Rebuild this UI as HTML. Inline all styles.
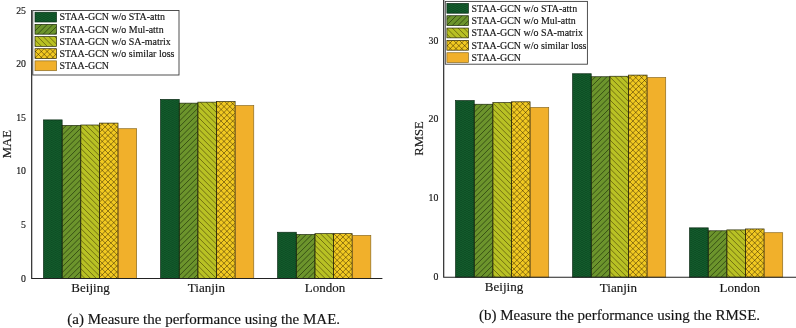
<!DOCTYPE html>
<html><head><meta charset="utf-8"><title>STAA-GCN ablation</title>
<style>html,body{margin:0;padding:0;background:#fff}svg{display:block}</style>
</head><body>
<svg width="796" height="328" viewBox="0 0 796 328" font-family='"Liberation Serif", serif' fill="#141414" stroke="#141414" stroke-width="0.15">
<defs>
<pattern id="p1" width="3.9" height="2" patternUnits="userSpaceOnUse" stroke="none">
<rect width="3.9" height="2" fill="#135c2c"/>
<circle cx="0.975" cy="0.5" r="0.55" fill="#083c1b"/>
<circle cx="2.925" cy="1.5" r="0.55" fill="#083c1b"/>
</pattern>
<clipPath id="c1"><rect x="62.13" y="125.50" width="18.63" height="153.00"/><rect x="179.23" y="103.15" width="18.63" height="175.35"/><rect x="296.28" y="234.55" width="18.63" height="43.95"/><rect x="35.00" y="24.37" width="21.50" height="9.80"/><rect x="474.22" y="104.25" width="18.62" height="172.95"/><rect x="591.22" y="76.75" width="18.62" height="200.45"/><rect x="708.22" y="230.80" width="18.62" height="46.40"/><rect x="446.90" y="15.73" width="21.50" height="9.80"/></clipPath>
<clipPath id="c2"><rect x="80.76" y="125.00" width="18.63" height="153.50"/><rect x="197.86" y="102.15" width="18.63" height="176.35"/><rect x="314.91" y="233.65" width="18.63" height="44.85"/><rect x="35.00" y="36.54" width="21.50" height="9.80"/><rect x="492.84" y="102.60" width="18.62" height="174.60"/><rect x="609.84" y="76.25" width="18.62" height="200.95"/><rect x="726.84" y="229.90" width="18.62" height="47.30"/><rect x="446.90" y="28.06" width="21.50" height="9.80"/></clipPath>
<clipPath id="c3"><rect x="99.39" y="123.10" width="18.63" height="155.40"/><rect x="216.49" y="101.60" width="18.63" height="176.90"/><rect x="333.54" y="233.65" width="18.63" height="44.85"/><rect x="35.00" y="48.71" width="21.50" height="9.80"/><rect x="511.46" y="101.80" width="18.62" height="175.40"/><rect x="628.46" y="75.10" width="18.62" height="202.10"/><rect x="745.46" y="228.95" width="18.62" height="48.25"/><rect x="446.90" y="40.39" width="21.50" height="9.80"/></clipPath>
</defs>
<rect width="796" height="328" fill="#fff" stroke="none"/>
<rect x="32.8" y="10.5" width="146.20" height="64.50" fill="#fff" stroke="#3c3c3c" stroke-width="0.9"/>
<rect x="445.3" y="1.4" width="142.10" height="62.80" fill="#fff" stroke="#3c3c3c" stroke-width="0.9"/>
<rect x="43.50" y="119.90" width="18.63" height="158.60" fill="url(#p1)" stroke="none"/>
<rect x="160.60" y="99.40" width="18.63" height="179.10" fill="url(#p1)" stroke="none"/>
<rect x="277.65" y="232.25" width="18.63" height="46.25" fill="url(#p1)" stroke="none"/>
<rect x="35.00" y="12.20" width="21.50" height="9.80" fill="url(#p1)" stroke="none"/>
<rect x="455.60" y="100.60" width="18.62" height="176.60" fill="url(#p1)" stroke="none"/>
<rect x="572.60" y="73.75" width="18.62" height="203.45" fill="url(#p1)" stroke="none"/>
<rect x="689.60" y="227.85" width="18.62" height="49.35" fill="url(#p1)" stroke="none"/>
<rect x="446.90" y="3.40" width="21.50" height="9.80" fill="url(#p1)" stroke="none"/>
<rect x="62.13" y="125.50" width="18.63" height="153.00" fill="#6c942c" stroke="none"/>
<rect x="179.23" y="103.15" width="18.63" height="175.35" fill="#6c942c" stroke="none"/>
<rect x="296.28" y="234.55" width="18.63" height="43.95" fill="#6c942c" stroke="none"/>
<rect x="35.00" y="24.37" width="21.50" height="9.80" fill="#6c942c" stroke="none"/>
<rect x="474.22" y="104.25" width="18.62" height="172.95" fill="#6c942c" stroke="none"/>
<rect x="591.22" y="76.75" width="18.62" height="200.45" fill="#6c942c" stroke="none"/>
<rect x="708.22" y="230.80" width="18.62" height="46.40" fill="#6c942c" stroke="none"/>
<rect x="446.90" y="15.73" width="21.50" height="9.80" fill="#6c942c" stroke="none"/>
<rect x="80.76" y="125.00" width="18.63" height="153.50" fill="#b8c124" stroke="none"/>
<rect x="197.86" y="102.15" width="18.63" height="176.35" fill="#b8c124" stroke="none"/>
<rect x="314.91" y="233.65" width="18.63" height="44.85" fill="#b8c124" stroke="none"/>
<rect x="35.00" y="36.54" width="21.50" height="9.80" fill="#b8c124" stroke="none"/>
<rect x="492.84" y="102.60" width="18.62" height="174.60" fill="#b8c124" stroke="none"/>
<rect x="609.84" y="76.25" width="18.62" height="200.95" fill="#b8c124" stroke="none"/>
<rect x="726.84" y="229.90" width="18.62" height="47.30" fill="#b8c124" stroke="none"/>
<rect x="446.90" y="28.06" width="21.50" height="9.80" fill="#b8c124" stroke="none"/>
<rect x="99.39" y="123.10" width="18.63" height="155.40" fill="#f1c921" stroke="none"/>
<rect x="216.49" y="101.60" width="18.63" height="176.90" fill="#f1c921" stroke="none"/>
<rect x="333.54" y="233.65" width="18.63" height="44.85" fill="#f1c921" stroke="none"/>
<rect x="35.00" y="48.71" width="21.50" height="9.80" fill="#f1c921" stroke="none"/>
<rect x="511.46" y="101.80" width="18.62" height="175.40" fill="#f1c921" stroke="none"/>
<rect x="628.46" y="75.10" width="18.62" height="202.10" fill="#f1c921" stroke="none"/>
<rect x="745.46" y="228.95" width="18.62" height="48.25" fill="#f1c921" stroke="none"/>
<rect x="446.90" y="40.39" width="21.50" height="9.80" fill="#f1c921" stroke="none"/>
<rect x="118.02" y="128.70" width="18.63" height="149.80" fill="#f1b02b" stroke="none"/>
<rect x="235.12" y="105.60" width="18.63" height="172.90" fill="#f1b02b" stroke="none"/>
<rect x="352.17" y="235.45" width="18.63" height="43.05" fill="#f1b02b" stroke="none"/>
<rect x="35.00" y="60.88" width="21.50" height="9.80" fill="#f1b02b" stroke="none"/>
<rect x="530.08" y="107.50" width="18.62" height="169.70" fill="#f1b02b" stroke="none"/>
<rect x="647.08" y="77.55" width="18.62" height="199.65" fill="#f1b02b" stroke="none"/>
<rect x="764.08" y="232.70" width="18.62" height="44.50" fill="#f1b02b" stroke="none"/>
<rect x="446.90" y="52.72" width="21.50" height="9.80" fill="#f1b02b" stroke="none"/>
<path clip-path="url(#c1)" d="M3.00,0L-325.00,328M8.72,0L-319.28,328M14.44,0L-313.56,328M20.16,0L-307.84,328M25.88,0L-302.12,328M31.60,0L-296.40,328M37.32,0L-290.68,328M43.04,0L-284.96,328M48.76,0L-279.24,328M54.48,0L-273.52,328M60.20,0L-267.80,328M65.92,0L-262.08,328M71.64,0L-256.36,328M77.36,0L-250.64,328M83.08,0L-244.92,328M88.80,0L-239.20,328M94.52,0L-233.48,328M100.24,0L-227.76,328M105.96,0L-222.04,328M111.68,0L-216.32,328M117.40,0L-210.60,328M123.12,0L-204.88,328M128.84,0L-199.16,328M134.56,0L-193.44,328M140.28,0L-187.72,328M146.00,0L-182.00,328M151.72,0L-176.28,328M157.44,0L-170.56,328M163.16,0L-164.84,328M168.88,0L-159.12,328M174.60,0L-153.40,328M180.32,0L-147.68,328M186.04,0L-141.96,328M191.76,0L-136.24,328M197.48,0L-130.52,328M203.20,0L-124.80,328M208.92,0L-119.08,328M214.64,0L-113.36,328M220.36,0L-107.64,328M226.08,0L-101.92,328M231.80,0L-96.20,328M237.52,0L-90.48,328M243.24,0L-84.76,328M248.96,0L-79.04,328M254.68,0L-73.32,328M260.40,0L-67.60,328M266.12,0L-61.88,328M271.84,0L-56.16,328M277.56,0L-50.44,328M283.28,0L-44.72,328M289.00,0L-39.00,328M294.72,0L-33.28,328M300.44,0L-27.56,328M306.16,0L-21.84,328M311.88,0L-16.12,328M317.60,0L-10.40,328M323.32,0L-4.68,328M329.04,0L1.04,328M334.76,0L6.76,328M340.48,0L12.48,328M346.20,0L18.20,328M351.92,0L23.92,328M357.64,0L29.64,328M363.36,0L35.36,328M369.08,0L41.08,328M374.80,0L46.80,328M380.52,0L52.52,328M386.24,0L58.24,328M391.96,0L63.96,328M397.68,0L69.68,328M403.40,0L75.40,328M409.12,0L81.12,328M414.84,0L86.84,328M420.56,0L92.56,328M426.28,0L98.28,328M432.00,0L104.00,328M437.72,0L109.72,328M443.44,0L115.44,328M449.16,0L121.16,328M454.88,0L126.88,328M460.60,0L132.60,328M466.32,0L138.32,328M472.04,0L144.04,328M477.76,0L149.76,328M483.48,0L155.48,328M489.20,0L161.20,328M494.92,0L166.92,328M500.64,0L172.64,328M506.36,0L178.36,328M512.08,0L184.08,328M517.80,0L189.80,328M523.52,0L195.52,328M529.24,0L201.24,328M534.96,0L206.96,328M540.68,0L212.68,328M546.40,0L218.40,328M552.12,0L224.12,328M557.84,0L229.84,328M563.56,0L235.56,328M569.28,0L241.28,328M575.00,0L247.00,328M580.72,0L252.72,328M586.44,0L258.44,328M592.16,0L264.16,328M597.88,0L269.88,328M603.60,0L275.60,328M609.32,0L281.32,328M615.04,0L287.04,328M620.76,0L292.76,328M626.48,0L298.48,328M632.20,0L304.20,328M637.92,0L309.92,328M643.64,0L315.64,328M649.36,0L321.36,328M655.08,0L327.08,328M660.80,0L332.80,328M666.52,0L338.52,328M672.24,0L344.24,328M677.96,0L349.96,328M683.68,0L355.68,328M689.40,0L361.40,328M695.12,0L367.12,328M700.84,0L372.84,328M706.56,0L378.56,328M712.28,0L384.28,328M718.00,0L390.00,328M723.72,0L395.72,328M729.44,0L401.44,328M735.16,0L407.16,328M740.88,0L412.88,328M746.60,0L418.60,328M752.32,0L424.32,328M758.04,0L430.04,328M763.76,0L435.76,328M769.48,0L441.48,328M775.20,0L447.20,328M780.92,0L452.92,328M786.64,0L458.64,328M792.36,0L464.36,328M798.08,0L470.08,328M803.80,0L475.80,328M809.52,0L481.52,328M815.24,0L487.24,328M820.96,0L492.96,328M826.68,0L498.68,328M832.40,0L504.40,328M838.12,0L510.12,328M843.84,0L515.84,328M849.56,0L521.56,328M855.28,0L527.28,328M861.00,0L533.00,328M866.72,0L538.72,328M872.44,0L544.44,328M878.16,0L550.16,328M883.88,0L555.88,328M889.60,0L561.60,328M895.32,0L567.32,328M901.04,0L573.04,328M906.76,0L578.76,328M912.48,0L584.48,328M918.20,0L590.20,328M923.92,0L595.92,328M929.64,0L601.64,328M935.36,0L607.36,328M941.08,0L613.08,328M946.80,0L618.80,328M952.52,0L624.52,328M958.24,0L630.24,328M963.96,0L635.96,328M969.68,0L641.68,328M975.40,0L647.40,328M981.12,0L653.12,328M986.84,0L658.84,328M992.56,0L664.56,328M998.28,0L670.28,328M1004.00,0L676.00,328M1009.72,0L681.72,328M1015.44,0L687.44,328M1021.16,0L693.16,328M1026.88,0L698.88,328M1032.60,0L704.60,328M1038.32,0L710.32,328M1044.04,0L716.04,328M1049.76,0L721.76,328M1055.48,0L727.48,328M1061.20,0L733.20,328M1066.92,0L738.92,328M1072.64,0L744.64,328M1078.36,0L750.36,328M1084.08,0L756.08,328M1089.80,0L761.80,328M1095.52,0L767.52,328M1101.24,0L773.24,328M1106.96,0L778.96,328M1112.68,0L784.68,328M1118.40,0L790.40,328" stroke="#0a1400" stroke-opacity="0.56" stroke-width="0.95" fill="none"/>
<path clip-path="url(#c2)" d="M0,-796.00L796,0.00M0,-790.28L796,5.72M0,-784.56L796,11.44M0,-778.84L796,17.16M0,-773.12L796,22.88M0,-767.40L796,28.60M0,-761.68L796,34.32M0,-755.96L796,40.04M0,-750.24L796,45.76M0,-744.52L796,51.48M0,-738.80L796,57.20M0,-733.08L796,62.92M0,-727.36L796,68.64M0,-721.64L796,74.36M0,-715.92L796,80.08M0,-710.20L796,85.80M0,-704.48L796,91.52M0,-698.76L796,97.24M0,-693.04L796,102.96M0,-687.32L796,108.68M0,-681.60L796,114.40M0,-675.88L796,120.12M0,-670.16L796,125.84M0,-664.44L796,131.56M0,-658.72L796,137.28M0,-653.00L796,143.00M0,-647.28L796,148.72M0,-641.56L796,154.44M0,-635.84L796,160.16M0,-630.12L796,165.88M0,-624.40L796,171.60M0,-618.68L796,177.32M0,-612.96L796,183.04M0,-607.24L796,188.76M0,-601.52L796,194.48M0,-595.80L796,200.20M0,-590.08L796,205.92M0,-584.36L796,211.64M0,-578.64L796,217.36M0,-572.92L796,223.08M0,-567.20L796,228.80M0,-561.48L796,234.52M0,-555.76L796,240.24M0,-550.04L796,245.96M0,-544.32L796,251.68M0,-538.60L796,257.40M0,-532.88L796,263.12M0,-527.16L796,268.84M0,-521.44L796,274.56M0,-515.72L796,280.28M0,-510.00L796,286.00M0,-504.28L796,291.72M0,-498.56L796,297.44M0,-492.84L796,303.16M0,-487.12L796,308.88M0,-481.40L796,314.60M0,-475.68L796,320.32M0,-469.96L796,326.04M0,-464.24L796,331.76M0,-458.52L796,337.48M0,-452.80L796,343.20M0,-447.08L796,348.92M0,-441.36L796,354.64M0,-435.64L796,360.36M0,-429.92L796,366.08M0,-424.20L796,371.80M0,-418.48L796,377.52M0,-412.76L796,383.24M0,-407.04L796,388.96M0,-401.32L796,394.68M0,-395.60L796,400.40M0,-389.88L796,406.12M0,-384.16L796,411.84M0,-378.44L796,417.56M0,-372.72L796,423.28M0,-367.00L796,429.00M0,-361.28L796,434.72M0,-355.56L796,440.44M0,-349.84L796,446.16M0,-344.12L796,451.88M0,-338.40L796,457.60M0,-332.68L796,463.32M0,-326.96L796,469.04M0,-321.24L796,474.76M0,-315.52L796,480.48M0,-309.80L796,486.20M0,-304.08L796,491.92M0,-298.36L796,497.64M0,-292.64L796,503.36M0,-286.92L796,509.08M0,-281.20L796,514.80M0,-275.48L796,520.52M0,-269.76L796,526.24M0,-264.04L796,531.96M0,-258.32L796,537.68M0,-252.60L796,543.40M0,-246.88L796,549.12M0,-241.16L796,554.84M0,-235.44L796,560.56M0,-229.72L796,566.28M0,-224.00L796,572.00M0,-218.28L796,577.72M0,-212.56L796,583.44M0,-206.84L796,589.16M0,-201.12L796,594.88M0,-195.40L796,600.60M0,-189.68L796,606.32M0,-183.96L796,612.04M0,-178.24L796,617.76M0,-172.52L796,623.48M0,-166.80L796,629.20M0,-161.08L796,634.92M0,-155.36L796,640.64M0,-149.64L796,646.36M0,-143.92L796,652.08M0,-138.20L796,657.80M0,-132.48L796,663.52M0,-126.76L796,669.24M0,-121.04L796,674.96M0,-115.32L796,680.68M0,-109.60L796,686.40M0,-103.88L796,692.12M0,-98.16L796,697.84M0,-92.44L796,703.56M0,-86.72L796,709.28M0,-81.00L796,715.00M0,-75.28L796,720.72M0,-69.56L796,726.44M0,-63.84L796,732.16M0,-58.12L796,737.88M0,-52.40L796,743.60M0,-46.68L796,749.32M0,-40.96L796,755.04M0,-35.24L796,760.76M0,-29.52L796,766.48M0,-23.80L796,772.20M0,-18.08L796,777.92M0,-12.36L796,783.64M0,-6.64L796,789.36M0,-0.92L796,795.08M0,4.80L796,800.80M0,10.52L796,806.52M0,16.24L796,812.24M0,21.96L796,817.96M0,27.68L796,823.68M0,33.40L796,829.40M0,39.12L796,835.12M0,44.84L796,840.84M0,50.56L796,846.56M0,56.28L796,852.28M0,62.00L796,858.00M0,67.72L796,863.72M0,73.44L796,869.44M0,79.16L796,875.16M0,84.88L796,880.88M0,90.60L796,886.60M0,96.32L796,892.32M0,102.04L796,898.04M0,107.76L796,903.76M0,113.48L796,909.48M0,119.20L796,915.20M0,124.92L796,920.92M0,130.64L796,926.64M0,136.36L796,932.36M0,142.08L796,938.08M0,147.80L796,943.80M0,153.52L796,949.52M0,159.24L796,955.24M0,164.96L796,960.96M0,170.68L796,966.68M0,176.40L796,972.40M0,182.12L796,978.12M0,187.84L796,983.84M0,193.56L796,989.56M0,199.28L796,995.28M0,205.00L796,1001.00M0,210.72L796,1006.72M0,216.44L796,1012.44M0,222.16L796,1018.16M0,227.88L796,1023.88M0,233.60L796,1029.60M0,239.32L796,1035.32M0,245.04L796,1041.04M0,250.76L796,1046.76M0,256.48L796,1052.48M0,262.20L796,1058.20M0,267.92L796,1063.92M0,273.64L796,1069.64M0,279.36L796,1075.36M0,285.08L796,1081.08M0,290.80L796,1086.80M0,296.52L796,1092.52M0,302.24L796,1098.24M0,307.96L796,1103.96M0,313.68L796,1109.68M0,319.40L796,1115.40M0,325.12L796,1121.12" stroke="#2a1c00" stroke-opacity="0.52" stroke-width="0.95" fill="none"/>
<path clip-path="url(#c3)" d="M0.00,0L-328.00,328M5.80,0L-322.20,328M11.60,0L-316.40,328M17.40,0L-310.60,328M23.20,0L-304.80,328M29.00,0L-299.00,328M34.80,0L-293.20,328M40.60,0L-287.40,328M46.40,0L-281.60,328M52.20,0L-275.80,328M58.00,0L-270.00,328M63.80,0L-264.20,328M69.60,0L-258.40,328M75.40,0L-252.60,328M81.20,0L-246.80,328M87.00,0L-241.00,328M92.80,0L-235.20,328M98.60,0L-229.40,328M104.40,0L-223.60,328M110.20,0L-217.80,328M116.00,0L-212.00,328M121.80,0L-206.20,328M127.60,0L-200.40,328M133.40,0L-194.60,328M139.20,0L-188.80,328M145.00,0L-183.00,328M150.80,0L-177.20,328M156.60,0L-171.40,328M162.40,0L-165.60,328M168.20,0L-159.80,328M174.00,0L-154.00,328M179.80,0L-148.20,328M185.60,0L-142.40,328M191.40,0L-136.60,328M197.20,0L-130.80,328M203.00,0L-125.00,328M208.80,0L-119.20,328M214.60,0L-113.40,328M220.40,0L-107.60,328M226.20,0L-101.80,328M232.00,0L-96.00,328M237.80,0L-90.20,328M243.60,0L-84.40,328M249.40,0L-78.60,328M255.20,0L-72.80,328M261.00,0L-67.00,328M266.80,0L-61.20,328M272.60,0L-55.40,328M278.40,0L-49.60,328M284.20,0L-43.80,328M290.00,0L-38.00,328M295.80,0L-32.20,328M301.60,0L-26.40,328M307.40,0L-20.60,328M313.20,0L-14.80,328M319.00,0L-9.00,328M324.80,0L-3.20,328M330.60,0L2.60,328M336.40,0L8.40,328M342.20,0L14.20,328M348.00,0L20.00,328M353.80,0L25.80,328M359.60,0L31.60,328M365.40,0L37.40,328M371.20,0L43.20,328M377.00,0L49.00,328M382.80,0L54.80,328M388.60,0L60.60,328M394.40,0L66.40,328M400.20,0L72.20,328M406.00,0L78.00,328M411.80,0L83.80,328M417.60,0L89.60,328M423.40,0L95.40,328M429.20,0L101.20,328M435.00,0L107.00,328M440.80,0L112.80,328M446.60,0L118.60,328M452.40,0L124.40,328M458.20,0L130.20,328M464.00,0L136.00,328M469.80,0L141.80,328M475.60,0L147.60,328M481.40,0L153.40,328M487.20,0L159.20,328M493.00,0L165.00,328M498.80,0L170.80,328M504.60,0L176.60,328M510.40,0L182.40,328M516.20,0L188.20,328M522.00,0L194.00,328M527.80,0L199.80,328M533.60,0L205.60,328M539.40,0L211.40,328M545.20,0L217.20,328M551.00,0L223.00,328M556.80,0L228.80,328M562.60,0L234.60,328M568.40,0L240.40,328M574.20,0L246.20,328M580.00,0L252.00,328M585.80,0L257.80,328M591.60,0L263.60,328M597.40,0L269.40,328M603.20,0L275.20,328M609.00,0L281.00,328M614.80,0L286.80,328M620.60,0L292.60,328M626.40,0L298.40,328M632.20,0L304.20,328M638.00,0L310.00,328M643.80,0L315.80,328M649.60,0L321.60,328M655.40,0L327.40,328M661.20,0L333.20,328M667.00,0L339.00,328M672.80,0L344.80,328M678.60,0L350.60,328M684.40,0L356.40,328M690.20,0L362.20,328M696.00,0L368.00,328M701.80,0L373.80,328M707.60,0L379.60,328M713.40,0L385.40,328M719.20,0L391.20,328M725.00,0L397.00,328M730.80,0L402.80,328M736.60,0L408.60,328M742.40,0L414.40,328M748.20,0L420.20,328M754.00,0L426.00,328M759.80,0L431.80,328M765.60,0L437.60,328M771.40,0L443.40,328M777.20,0L449.20,328M783.00,0L455.00,328M788.80,0L460.80,328M794.60,0L466.60,328M800.40,0L472.40,328M806.20,0L478.20,328M812.00,0L484.00,328M817.80,0L489.80,328M823.60,0L495.60,328M829.40,0L501.40,328M835.20,0L507.20,328M841.00,0L513.00,328M846.80,0L518.80,328M852.60,0L524.60,328M858.40,0L530.40,328M864.20,0L536.20,328M870.00,0L542.00,328M875.80,0L547.80,328M881.60,0L553.60,328M887.40,0L559.40,328M893.20,0L565.20,328M899.00,0L571.00,328M904.80,0L576.80,328M910.60,0L582.60,328M916.40,0L588.40,328M922.20,0L594.20,328M928.00,0L600.00,328M933.80,0L605.80,328M939.60,0L611.60,328M945.40,0L617.40,328M951.20,0L623.20,328M957.00,0L629.00,328M962.80,0L634.80,328M968.60,0L640.60,328M974.40,0L646.40,328M980.20,0L652.20,328M986.00,0L658.00,328M991.80,0L663.80,328M997.60,0L669.60,328M1003.40,0L675.40,328M1009.20,0L681.20,328M1015.00,0L687.00,328M1020.80,0L692.80,328M1026.60,0L698.60,328M1032.40,0L704.40,328M1038.20,0L710.20,328M1044.00,0L716.00,328M1049.80,0L721.80,328M1055.60,0L727.60,328M1061.40,0L733.40,328M1067.20,0L739.20,328M1073.00,0L745.00,328M1078.80,0L750.80,328M1084.60,0L756.60,328M1090.40,0L762.40,328M1096.20,0L768.20,328M1102.00,0L774.00,328M1107.80,0L779.80,328M1113.60,0L785.60,328M1119.40,0L791.40,328" stroke="#1e1000" stroke-opacity="0.55" stroke-width="0.85" fill="none"/>
<path clip-path="url(#c3)" d="M0,-796.00L796,0.00M0,-790.20L796,5.80M0,-784.40L796,11.60M0,-778.60L796,17.40M0,-772.80L796,23.20M0,-767.00L796,29.00M0,-761.20L796,34.80M0,-755.40L796,40.60M0,-749.60L796,46.40M0,-743.80L796,52.20M0,-738.00L796,58.00M0,-732.20L796,63.80M0,-726.40L796,69.60M0,-720.60L796,75.40M0,-714.80L796,81.20M0,-709.00L796,87.00M0,-703.20L796,92.80M0,-697.40L796,98.60M0,-691.60L796,104.40M0,-685.80L796,110.20M0,-680.00L796,116.00M0,-674.20L796,121.80M0,-668.40L796,127.60M0,-662.60L796,133.40M0,-656.80L796,139.20M0,-651.00L796,145.00M0,-645.20L796,150.80M0,-639.40L796,156.60M0,-633.60L796,162.40M0,-627.80L796,168.20M0,-622.00L796,174.00M0,-616.20L796,179.80M0,-610.40L796,185.60M0,-604.60L796,191.40M0,-598.80L796,197.20M0,-593.00L796,203.00M0,-587.20L796,208.80M0,-581.40L796,214.60M0,-575.60L796,220.40M0,-569.80L796,226.20M0,-564.00L796,232.00M0,-558.20L796,237.80M0,-552.40L796,243.60M0,-546.60L796,249.40M0,-540.80L796,255.20M0,-535.00L796,261.00M0,-529.20L796,266.80M0,-523.40L796,272.60M0,-517.60L796,278.40M0,-511.80L796,284.20M0,-506.00L796,290.00M0,-500.20L796,295.80M0,-494.40L796,301.60M0,-488.60L796,307.40M0,-482.80L796,313.20M0,-477.00L796,319.00M0,-471.20L796,324.80M0,-465.40L796,330.60M0,-459.60L796,336.40M0,-453.80L796,342.20M0,-448.00L796,348.00M0,-442.20L796,353.80M0,-436.40L796,359.60M0,-430.60L796,365.40M0,-424.80L796,371.20M0,-419.00L796,377.00M0,-413.20L796,382.80M0,-407.40L796,388.60M0,-401.60L796,394.40M0,-395.80L796,400.20M0,-390.00L796,406.00M0,-384.20L796,411.80M0,-378.40L796,417.60M0,-372.60L796,423.40M0,-366.80L796,429.20M0,-361.00L796,435.00M0,-355.20L796,440.80M0,-349.40L796,446.60M0,-343.60L796,452.40M0,-337.80L796,458.20M0,-332.00L796,464.00M0,-326.20L796,469.80M0,-320.40L796,475.60M0,-314.60L796,481.40M0,-308.80L796,487.20M0,-303.00L796,493.00M0,-297.20L796,498.80M0,-291.40L796,504.60M0,-285.60L796,510.40M0,-279.80L796,516.20M0,-274.00L796,522.00M0,-268.20L796,527.80M0,-262.40L796,533.60M0,-256.60L796,539.40M0,-250.80L796,545.20M0,-245.00L796,551.00M0,-239.20L796,556.80M0,-233.40L796,562.60M0,-227.60L796,568.40M0,-221.80L796,574.20M0,-216.00L796,580.00M0,-210.20L796,585.80M0,-204.40L796,591.60M0,-198.60L796,597.40M0,-192.80L796,603.20M0,-187.00L796,609.00M0,-181.20L796,614.80M0,-175.40L796,620.60M0,-169.60L796,626.40M0,-163.80L796,632.20M0,-158.00L796,638.00M0,-152.20L796,643.80M0,-146.40L796,649.60M0,-140.60L796,655.40M0,-134.80L796,661.20M0,-129.00L796,667.00M0,-123.20L796,672.80M0,-117.40L796,678.60M0,-111.60L796,684.40M0,-105.80L796,690.20M0,-100.00L796,696.00M0,-94.20L796,701.80M0,-88.40L796,707.60M0,-82.60L796,713.40M0,-76.80L796,719.20M0,-71.00L796,725.00M0,-65.20L796,730.80M0,-59.40L796,736.60M0,-53.60L796,742.40M0,-47.80L796,748.20M0,-42.00L796,754.00M0,-36.20L796,759.80M0,-30.40L796,765.60M0,-24.60L796,771.40M0,-18.80L796,777.20M0,-13.00L796,783.00M0,-7.20L796,788.80M0,-1.40L796,794.60M0,4.40L796,800.40M0,10.20L796,806.20M0,16.00L796,812.00M0,21.80L796,817.80M0,27.60L796,823.60M0,33.40L796,829.40M0,39.20L796,835.20M0,45.00L796,841.00M0,50.80L796,846.80M0,56.60L796,852.60M0,62.40L796,858.40M0,68.20L796,864.20M0,74.00L796,870.00M0,79.80L796,875.80M0,85.60L796,881.60M0,91.40L796,887.40M0,97.20L796,893.20M0,103.00L796,899.00M0,108.80L796,904.80M0,114.60L796,910.60M0,120.40L796,916.40M0,126.20L796,922.20M0,132.00L796,928.00M0,137.80L796,933.80M0,143.60L796,939.60M0,149.40L796,945.40M0,155.20L796,951.20M0,161.00L796,957.00M0,166.80L796,962.80M0,172.60L796,968.60M0,178.40L796,974.40M0,184.20L796,980.20M0,190.00L796,986.00M0,195.80L796,991.80M0,201.60L796,997.60M0,207.40L796,1003.40M0,213.20L796,1009.20M0,219.00L796,1015.00M0,224.80L796,1020.80M0,230.60L796,1026.60M0,236.40L796,1032.40M0,242.20L796,1038.20M0,248.00L796,1044.00M0,253.80L796,1049.80M0,259.60L796,1055.60M0,265.40L796,1061.40M0,271.20L796,1067.20M0,277.00L796,1073.00M0,282.80L796,1078.80M0,288.60L796,1084.60M0,294.40L796,1090.40M0,300.20L796,1096.20M0,306.00L796,1102.00M0,311.80L796,1107.80M0,317.60L796,1113.60M0,323.40L796,1119.40" stroke="#1e1000" stroke-opacity="0.55" stroke-width="0.85" fill="none"/>
<rect x="43.50" y="119.90" width="18.63" height="158.60" fill="none" stroke="#0a2a14" stroke-width="0.7"/>
<rect x="160.60" y="99.40" width="18.63" height="179.10" fill="none" stroke="#0a2a14" stroke-width="0.7"/>
<rect x="277.65" y="232.25" width="18.63" height="46.25" fill="none" stroke="#0a2a14" stroke-width="0.7"/>
<rect x="35.00" y="12.20" width="21.50" height="9.80" fill="none" stroke="#0a2a14" stroke-width="0.7"/>
<rect x="455.60" y="100.60" width="18.62" height="176.60" fill="none" stroke="#0a2a14" stroke-width="0.7"/>
<rect x="572.60" y="73.75" width="18.62" height="203.45" fill="none" stroke="#0a2a14" stroke-width="0.7"/>
<rect x="689.60" y="227.85" width="18.62" height="49.35" fill="none" stroke="#0a2a14" stroke-width="0.7"/>
<rect x="446.90" y="3.40" width="21.50" height="9.80" fill="none" stroke="#0a2a14" stroke-width="0.7"/>
<rect x="62.13" y="125.50" width="18.63" height="153.00" fill="none" stroke="#1c280a" stroke-width="0.7"/>
<rect x="179.23" y="103.15" width="18.63" height="175.35" fill="none" stroke="#1c280a" stroke-width="0.7"/>
<rect x="296.28" y="234.55" width="18.63" height="43.95" fill="none" stroke="#1c280a" stroke-width="0.7"/>
<rect x="35.00" y="24.37" width="21.50" height="9.80" fill="none" stroke="#1c280a" stroke-width="0.7"/>
<rect x="474.22" y="104.25" width="18.62" height="172.95" fill="none" stroke="#1c280a" stroke-width="0.7"/>
<rect x="591.22" y="76.75" width="18.62" height="200.45" fill="none" stroke="#1c280a" stroke-width="0.7"/>
<rect x="708.22" y="230.80" width="18.62" height="46.40" fill="none" stroke="#1c280a" stroke-width="0.7"/>
<rect x="446.90" y="15.73" width="21.50" height="9.80" fill="none" stroke="#1c280a" stroke-width="0.7"/>
<rect x="80.76" y="125.00" width="18.63" height="153.50" fill="none" stroke="#25280a" stroke-width="0.7"/>
<rect x="197.86" y="102.15" width="18.63" height="176.35" fill="none" stroke="#25280a" stroke-width="0.7"/>
<rect x="314.91" y="233.65" width="18.63" height="44.85" fill="none" stroke="#25280a" stroke-width="0.7"/>
<rect x="35.00" y="36.54" width="21.50" height="9.80" fill="none" stroke="#25280a" stroke-width="0.7"/>
<rect x="492.84" y="102.60" width="18.62" height="174.60" fill="none" stroke="#25280a" stroke-width="0.7"/>
<rect x="609.84" y="76.25" width="18.62" height="200.95" fill="none" stroke="#25280a" stroke-width="0.7"/>
<rect x="726.84" y="229.90" width="18.62" height="47.30" fill="none" stroke="#25280a" stroke-width="0.7"/>
<rect x="446.90" y="28.06" width="21.50" height="9.80" fill="none" stroke="#25280a" stroke-width="0.7"/>
<rect x="99.39" y="123.10" width="18.63" height="155.40" fill="none" stroke="#2e2806" stroke-width="0.7"/>
<rect x="216.49" y="101.60" width="18.63" height="176.90" fill="none" stroke="#2e2806" stroke-width="0.7"/>
<rect x="333.54" y="233.65" width="18.63" height="44.85" fill="none" stroke="#2e2806" stroke-width="0.7"/>
<rect x="35.00" y="48.71" width="21.50" height="9.80" fill="none" stroke="#2e2806" stroke-width="0.7"/>
<rect x="511.46" y="101.80" width="18.62" height="175.40" fill="none" stroke="#2e2806" stroke-width="0.7"/>
<rect x="628.46" y="75.10" width="18.62" height="202.10" fill="none" stroke="#2e2806" stroke-width="0.7"/>
<rect x="745.46" y="228.95" width="18.62" height="48.25" fill="none" stroke="#2e2806" stroke-width="0.7"/>
<rect x="446.90" y="40.39" width="21.50" height="9.80" fill="none" stroke="#2e2806" stroke-width="0.7"/>
<rect x="118.02" y="128.70" width="18.63" height="149.80" fill="none" stroke="#8a6a20" stroke-width="0.7"/>
<rect x="235.12" y="105.60" width="18.63" height="172.90" fill="none" stroke="#8a6a20" stroke-width="0.7"/>
<rect x="352.17" y="235.45" width="18.63" height="43.05" fill="none" stroke="#8a6a20" stroke-width="0.7"/>
<rect x="35.00" y="60.88" width="21.50" height="9.80" fill="none" stroke="#8a6a20" stroke-width="0.7"/>
<rect x="530.08" y="107.50" width="18.62" height="169.70" fill="none" stroke="#8a6a20" stroke-width="0.7"/>
<rect x="647.08" y="77.55" width="18.62" height="199.65" fill="none" stroke="#8a6a20" stroke-width="0.7"/>
<rect x="764.08" y="232.70" width="18.62" height="44.50" fill="none" stroke="#8a6a20" stroke-width="0.7"/>
<rect x="446.90" y="52.72" width="21.50" height="9.80" fill="none" stroke="#8a6a20" stroke-width="0.7"/>
<path d="M31.7,10 V278.5 H382.4" fill="none" stroke="#222" stroke-width="1.15"/>
<path d="M443.7,0 V277.2 H796" fill="none" stroke="#222" stroke-width="1.15"/>
<text x="59.5" y="20.40" font-size="9.95">STAA-GCN w/o STA-attn</text>
<text x="59.5" y="32.57" font-size="9.95">STAA-GCN w/o Mul-attn</text>
<text x="59.5" y="44.74" font-size="9.95">STAA-GCN w/o SA-matrix</text>
<text x="59.5" y="56.91" font-size="9.95">STAA-GCN w/o similar loss</text>
<text x="59.5" y="69.08" font-size="9.95">STAA-GCN</text>
<text x="471.6" y="11.60" font-size="9.95">STAA-GCN w/o STA-attn</text>
<text x="471.6" y="23.93" font-size="9.95">STAA-GCN w/o Mul-attn</text>
<text x="471.6" y="36.26" font-size="9.95">STAA-GCN w/o SA-matrix</text>
<text x="471.6" y="48.59" font-size="9.95">STAA-GCN w/o similar loss</text>
<text x="471.6" y="60.92" font-size="9.95">STAA-GCN</text>
<text x="26" y="281.6" font-size="9.8" text-anchor="end" >0</text>
<text x="26" y="228.0" font-size="9.8" text-anchor="end" >5</text>
<text x="26" y="174.4" font-size="9.8" text-anchor="end" >10</text>
<text x="26" y="120.89999999999999" font-size="9.8" text-anchor="end" >15</text>
<text x="26" y="67.3" font-size="9.8" text-anchor="end" >20</text>
<text x="26" y="13.8" font-size="9.8" text-anchor="end" >25</text>
<text x="0" y="0" font-size="12.7" text-anchor="middle" transform="translate(11,144.2) rotate(-90)">MAE</text>
<text x="90.5" y="292.1" font-size="13" text-anchor="middle" >Beijing</text>
<text x="206.4" y="292.1" font-size="13" text-anchor="middle" >Tianjin</text>
<text x="325" y="292.1" font-size="13" text-anchor="middle" >London</text>
<text x="67.3" y="323.6" font-size="15" text-anchor="start" >(a) Measure the performance using the MAE.</text>
<text x="438.3" y="279.90000000000003" font-size="9.8" text-anchor="end" >0</text>
<text x="438.3" y="201.10000000000002" font-size="9.8" text-anchor="end" >10</text>
<text x="438.3" y="122.3" font-size="9.8" text-anchor="end" >20</text>
<text x="438.3" y="43.5" font-size="9.8" text-anchor="end" >30</text>
<text x="0" y="0" font-size="12.7" text-anchor="middle" transform="translate(423.3,138.4) rotate(-90)">RMSE</text>
<text x="504" y="291.4" font-size="13" text-anchor="middle" >Beijing</text>
<text x="618.4" y="291.6" font-size="13" text-anchor="middle" >Tianjin</text>
<text x="739.7" y="292.3" font-size="13" text-anchor="middle" >London</text>
<text x="478.9" y="320.3" font-size="15" text-anchor="start" >(b) Measure the performance using the RMSE.</text>
</svg>
</body></html>
